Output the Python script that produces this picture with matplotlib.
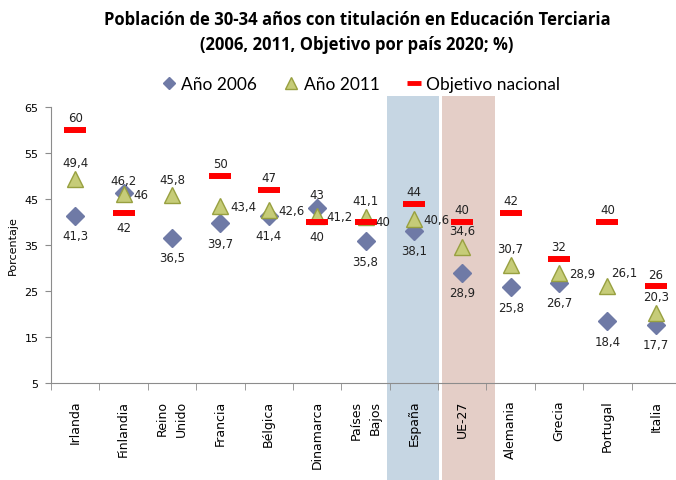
import matplotlib
matplotlib.use("Agg")
import matplotlib.pyplot as plt
from matplotlib.lines import Line2D
import numpy as np

categories = ["Irlanda", "Finlandia", "Reino\nUnido", "Francia", "Bélgica", "Dinamarca",
              "Países\nBajos", "España", "UE-27", "Alemania", "Grecia", "Portugal", "Italia"]
v2006 = [41.3, 46.2, 36.5, 39.7, 41.4, 43.0, 35.8, 38.1, 28.9, 25.8, 26.7, 18.4, 17.7]
v2011 = [49.4, 46.0, 45.8, 43.4, 42.6, 41.2, 41.1, 40.6, 34.6, 30.7, 28.9, 26.1, 20.3]
target = [60, 42, None, 50, 47, 40, 40, 44, 40, 42, 32, 40, 26]

# label placement (style only)
pos2006 = ["b", "t", "b", "b", "b", "t", "b", "b", "b", "b", "b", "b", "b"]
pos2011 = ["t", "r", "t", "r", "r", "r", "t", "r", "t", "t", "r", "tr", "t"]
posT = ["t", "b", None, "t", "t", "b", "r", "t", "t", "t", "t", "t", "t"]

def fmt(v):
    s = ("%.1f" % v).rstrip("0").rstrip(".")
    return s.replace(".", ",")

W, H = 676, 481
fig = plt.figure(figsize=(W/100, H/100), dpi=100)
ax = fig.add_axes([51/W, 1-384/H, 629/W, 276/H])
x = np.arange(len(categories))
ax.set_xlim(-0.5, len(categories)-0.5)
ax.set_ylim(5, 65)

# shaded bands (España, UE-27)
y0 = (384-481)/276
y1 = (384-97)/276
ax.axvspan(6.44, 7.52, ymin=y0, ymax=y1, color="#c6d6e3", clip_on=False, zorder=0, lw=0)
ax.axvspan(7.58, 8.67, ymin=y0, ymax=y1, color="#e4cec7", clip_on=False, zorder=0, lw=0)

dcol = "#6f7aa6"
ax.plot(x, v2006, ls="none", marker="D", ms=9, color=dcol, mec=dcol, zorder=3)
ax.plot(x, v2011, ls="none", marker="^", ms=12, color="#c6cc78", mec="#98a040", mew=1, zorder=4)
tx = [i for i, t in enumerate(target) if t is not None]
tv = [t for t in target if t is not None]
ax.plot(tx, tv, ls="none", marker="_", ms=16, mew=4.3, color="#ff0000", zorder=5)

offs = {"t": (0, 7, "center", "bottom"), "b": (0, -9.5, "center", "top"),
        "r": (7, 0, "left", "center"), "l": (-7, 0, "right", "center"),
        "tr": (3, 5, "left", "bottom")}
lkw = dict(fontsize=8.5, color="#222222", zorder=6, textcoords="offset points")
for i in range(len(categories)):
    dx, dy, ha, va = offs[pos2006[i]]
    if pos2006[i] == "t":
        dy = 5
    ax.annotate(fmt(v2006[i]), (x[i], v2006[i]), xytext=(dx, dy), ha=ha, va=va, **lkw)
    dx, dy, ha, va = offs[pos2011[i]]
    ax.annotate(fmt(v2011[i]), (x[i], v2011[i]), xytext=(dx, dy), ha=ha, va=va, **lkw)
    if target[i] is not None:
        dx, dy, ha, va = offs[posT[i]]
        if posT[i] == "r":
            dx = 7
        elif posT[i] == "t":
            dy = 4
        else:
            dy = -6
        ax.annotate(fmt(target[i]), (x[i], target[i]), xytext=(dx, dy), ha=ha, va=va, **lkw)

for s in ["top", "right"]:
    ax.spines[s].set_visible(False)
for s in ["left", "bottom"]:
    ax.spines[s].set_color("#8c8c8c")
ax.set_yticks(range(5, 66, 10))
ax.tick_params(axis="y", labelsize=8, length=4, color="#8c8c8c", pad=5)
ax.set_xticks(x)
ax.set_xticklabels(categories, rotation=90, fontsize=9, ha="center", va="top",
                   multialignment="right", linespacing=1.6)
ax.set_xticks(np.arange(-0.5, len(categories), 1), minor=True)
ax.tick_params(axis="x", which="major", length=0, pad=12)
ax.tick_params(axis="x", which="minor", length=5, color="#8c8c8c")
ax.set_ylabel("Porcentaje", fontsize=8, labelpad=5)

fig.text(357/W, 1-20/H, "Población de 30-34 años con titulación en Educación Terciaria",
         ha="center", va="center", fontsize=12, fontweight="bold", family="Open Sans")
fig.text(357/W, 1-45/H, "(2006, 2011, Objetivo por país 2020; %)",
         ha="center", va="center", fontsize=12, fontweight="bold", family="Open Sans")

handles = [Line2D([], [], ls="none", marker="D", ms=6, color=dcol),
           Line2D([], [], ls="none", marker="^", ms=9, color="#c6cc78", mec="#98a040"),
           Line2D([], [], ls="none", marker="_", ms=10, mew=3.5, color="#ff0000")]
fig.legend(handles, ["Año 2006", "Año 2011", "Objetivo nacional"], loc="center",
           bbox_to_anchor=(361/W, 1-85/H), ncol=3, frameon=False,
           prop={"family": "Lato", "size": 12.5}, handlelength=0.8, handletextpad=0.3,
           columnspacing=1.6)

fig.savefig("out.png", dpi=100)
